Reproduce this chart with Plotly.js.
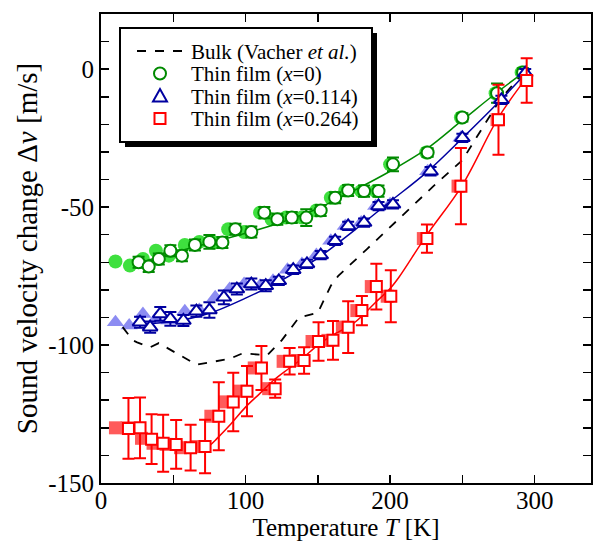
<!DOCTYPE html>
<html>
<head>
<meta charset="utf-8">
<script src="https://cdn.plot.ly/plotly-3.0.1.min.js"></script>
<style>html,body{margin:0;padding:0;background:#fff;}#chart{width:596px;height:541px;}</style>
</head>
<body>
<div id="chart"></div>
<script>
// ---- Data ----
// Bulk (Vacher et al.) dashed curve
const bulkT = [15, 22, 25, 34, 40, 66, 89, 98, 115, 125, 137, 150, 159, 164, 184, 206, 230, 250, 276, 291];
const bulkV = [-93.5, -98.3, -99, -100.8, -99.3, -107.1, -105, -103, -103.7, -98.3, -90, -88.3, -78.5, -75, -65.2, -54.4, -42.4, -33, -11.1, -2];

// Thin film x=0 (open circles)
const gT = [26, 33, 40, 48, 56, 65, 75, 84, 93, 104, 113, 122, 132, 142, 152, 162, 171, 182, 192, 202, 226, 250, 274, 292];
const gV = [-70, -71.5, -68.8, -65.8, -67.6, -63.7, -62.6, -62.8, -58, -59, -52, -54.4, -53.8, -53.8, -51.2, -46.6, -44, -44.2, -44.2, -34.5, -30.2, -17.5, -8.7, -1.2];
const gE = [2, 2, 2, 2, 2, 2, 2.5, 2, 2, 2, 2, 2, 2, 3, 2, 2, 2, 2, 2, 2.5, 1.5, 1.5, 3.5, 1.5];
// x=0 companion (filled, light)
const gfT = [10, 20, 29, 38, 47, 58, 68, 78, 88, 99, 110, 118, 128, 139, 149, 159, 169, 180, 190, 200, 225, 249, 273, 291];
const gfV = [-69.7, -71.2, -68.8, -65.8, -67.6, -63.7, -62.6, -62.8, -58, -59, -52, -54.4, -53.8, -53.8, -51.2, -46.6, -44, -44.2, -44.2, -34.5, -30.2, -17.5, -8.7, -1.2];
// x=0 fit line
const gFitT = [25, 50, 75, 100, 125, 150, 175, 200, 225, 250, 275, 293];
const gFitV = [-70.5, -66.5, -63, -59.5, -55.5, -50.5, -44, -37, -29, -18.5, -8, -1];

// Thin film x=0.114 (open triangles)
const bT = [27, 34, 41, 48, 57, 66, 75, 85, 94, 104, 114, 123, 133, 142.5, 152, 162, 171, 182, 192, 202, 228, 250, 277, 293.5];
const bV = [-91.7, -93.5, -88.7, -90.5, -91.1, -87.7, -87.3, -82.7, -79.7, -77.9, -78.5, -76.7, -72.7, -70.6, -67.4, -62.2, -56.8, -55.6, -49.6, -49, -37, -24.9, -11.1, -1.4];
const bE = [2, 2, 2.5, 2.5, 2, 2, 2.8, 2.5, 2, 2, 2, 1.5, 1.5, 1.5, 1.5, 1.5, 1.5, 1.5, 1.5, 1.5, 1.5, 1.5, 1.5, 1.5];
// x=0.114 companion (filled, light)
const bfT = [10, 19.5, 29, 38, 47, 58, 68, 79, 89, 99, 110, 119, 129, 139, 149, 159, 169, 180, 190, 200, 226, 249, 276, 293];
const bfV = [-91.7, -92.9, -88.7, -90.5, -91.1, -87.7, -87.3, -82.7, -79.7, -77.9, -78.5, -76.7, -72.7, -70.6, -67.4, -62.2, -56.8, -55.6, -49.6, -49, -37, -24.9, -11.1, -1.4];
// x=0.114 fit line
const bFitT = [25, 50, 75, 100, 125, 150, 175, 200, 225, 250, 275, 294];
const bFitV = [-92.5, -91.5, -88.5, -83, -76.5, -68.5, -58.5, -48, -37.5, -25, -12, -1.5];

// Thin film x=0.264 (open squares)
const rT = [19, 27, 35, 43, 52, 62, 72, 81.5, 91.5, 101, 111, 120.5, 130.5, 140.5, 150.5, 160.5, 171, 180.5, 190.5, 200.5, 225.5, 249, 275, 294.5];
const rV = [-130.2, -130, -134.1, -135.6, -136, -137.2, -136.8, -125.8, -120.6, -116.7, -108.3, -115.8, -105.9, -105.6, -98.7, -98.3, -93.5, -87.5, -78.8, -82.3, -61.4, -42.4, -18.3, -4.1];
const rE = [11, 11, 9, 10.3, 8.8, 8.3, 9.7, 12.3, 10.6, 9.1, 8, 3.3, 4.8, 4.8, 7, 7, 9.4, 5.3, 8.3, 9.4, 5.1, 13.8, 12.7, 8.1];
// x=0.264 companion (filled, light)
const rfT = [10, 18, 28, 36, 45, 55, 66, 76, 86, 96, 106, 116, 126, 136, 146, 157, 167, 177, 187, 198, 223, 247, 274, 294];
const rfV = [-130, -130, -133.8, -135.6, -136, -137.2, -136.8, -125.8, -120.6, -116.7, -108.3, -115.8, -105.9, -105.6, -98.7, -98.3, -93.5, -87.5, -78.8, -82.3, -61.4, -42.4, -18.3, -4.1];
// x=0.264 fit line
const rFitT = [72, 75, 80, 90, 100, 110, 120, 130, 140, 150, 160, 175, 190, 200, 206, 225, 250, 275, 295];
const rFitV = [-137.5, -136.5, -134, -128.5, -122.5, -117.5, -112.5, -108.5, -104.5, -100, -96.5, -92, -84.5, -79.5, -75.5, -60.4, -42, -17.5, -2.7];

// Tick labels
const xTickVals = [0, 100, 200, 300];
const xTickText = ['0', '100', '200', '300'];
const yTickVals = [-150, -100, -50, 0];
const yTickText = ['-150', '-100', '-50', '0'];

// Legend labels
const legendNames = ['Bulk (Vacher <i>et al.</i>)', 'Thin film (<i>x</i>=0)', 'Thin film (<i>x</i>=0.114)', 'Thin film (<i>x</i>=0.264)'];

// ---- Styling ----
const FONT = 'Liberation Serif, Times New Roman, serif';
const cG = '#008a00', cGf = '#3ee03e';
const cB = '#0000a0', cBf = '#8c8cf2';
const cR = '#ff0000', cRf = '#ff5a5a';

// plot-area geometry (pixels) used for placing the hand-drawn legend
const PL = 101, PR = 591, PT = 14, PB = 483;
const px = v => (v - PL) / (PR - PL);
const py = v => (PB - v) / (PB - PT);

function filled(x, y, sym, col, size) {
  return {x: x, y: y, type: 'scatter', mode: 'markers', showlegend: false, hoverinfo: 'skip',
    marker: {symbol: sym, size: size, color: col, line: {width: 0}}};
}
function fit(x, y, col) {
  return {x: x, y: y, type: 'scatter', mode: 'lines', showlegend: false, hoverinfo: 'skip',
    line: {color: col, width: 1.5, shape: 'spline'}};
}
function open(x, y, e, sym, col, name, size) {
  return {x: x, y: y, type: 'scatter', mode: 'markers', name: name, showlegend: false,
    error_y: {type: 'data', array: e, visible: true, color: col, thickness: 2, width: 6},
    marker: {symbol: sym, size: size, color: '#ffffff', line: {color: col, width: 2}}};
}

const traces = [
  filled(gfT, gfV, 'circle', cGf, 14),
  filled(bfT, bfV, 'triangle-up', cBf, 15),
  filled(rfT, rfV, 'square', cRf, 13),
  {x: bulkT, y: bulkV, type: 'scatter', mode: 'lines', name: legendNames[0], showlegend: false,
    line: {color: '#000', width: 1.8, dash: 'dash'}},
  fit(gFitT, gFitV, cG),
  fit(bFitT, bFitV, cB),
  fit(rFitT, rFitV, cR),
  open(gT, gV, gE, 'circle', cG, legendNames[1], 12),
  open(bT, bV, bE, 'triangle-up', cB, legendNames[2], 13),
  open(rT, rV, rE, 'square', cR, legendNames[3], 11)
];

const axisCommon = {
  showline: true, linecolor: '#000', linewidth: 2, mirror: 'ticks',
  ticks: 'inside', ticklen: 8, tickwidth: 1.5, tickcolor: '#000',
  showgrid: false, zeroline: false, tickmode: 'array',
  tickfont: {family: FONT, size: 25, color: '#000'}
};

// legend geometry in pixels
const LX0 = 120, LX1 = 372, LY0 = 28, LY1 = 142, SH = 5;
const rowY = [51, 73.5, 96, 118.5];
const symX = 160, textX = 189;

const shapes = [
  {type: 'rect', xref: 'paper', yref: 'paper', layer: 'above',
   x0: px(LX0 + SH), x1: px(LX1 + SH), y0: py(LY1 + SH), y1: py(LY0 + SH),
   fillcolor: '#000', line: {width: 0}},
  {type: 'rect', xref: 'paper', yref: 'paper', layer: 'above',
   x0: px(LX0), x1: px(LX1), y0: py(LY1), y1: py(LY0),
   fillcolor: '#fff', line: {color: '#000', width: 2}},
  {type: 'line', xref: 'paper', yref: 'paper', layer: 'above',
   x0: px(137), x1: px(182), y0: py(rowY[0]), y1: py(rowY[0]),
   line: {color: '#000', width: 1.8, dash: 'dash'}},
  {type: 'circle', xref: 'paper', yref: 'paper', layer: 'above',
   x0: px(symX - 6), x1: px(symX + 6), y0: py(rowY[1] + 6), y1: py(rowY[1] - 6),
   fillcolor: '#fff', line: {color: cG, width: 2}},
  {type: 'path', xref: 'paper', yref: 'paper', layer: 'above',
   path: 'M ' + px(symX - 7) + ' ' + py(rowY[2] + 5.5) + ' L ' + px(symX + 7) + ' ' + py(rowY[2] + 5.5) +
         ' L ' + px(symX) + ' ' + py(rowY[2] - 7) + ' Z',
   fillcolor: '#fff', line: {color: cB, width: 2}},
  {type: 'rect', xref: 'paper', yref: 'paper', layer: 'above',
   x0: px(symX - 5.5), x1: px(symX + 5.5), y0: py(rowY[3] + 5.5), y1: py(rowY[3] - 5.5),
   fillcolor: '#fff', line: {color: cR, width: 2}}
];

const annotations = legendNames.map((t, i) => ({
  text: t, xref: 'paper', yref: 'paper', x: px(textX), y: py(rowY[i] + 1),
  xanchor: 'left', yanchor: 'middle', showarrow: false,
  font: {family: FONT, size: 21, color: '#000'}
}));

const layout = {
  width: 596, height: 541,
  margin: {l: 101, r: 5, t: 14, b: 58},
  paper_bgcolor: '#fff', plot_bgcolor: '#fff',
  font: {family: FONT, color: '#000'},
  showlegend: false,
  xaxis: Object.assign({}, axisCommon, {
    range: [0, 339], tickvals: xTickVals, ticktext: xTickText,
    ticklabelstandoff: -6,
    minor: {dtick: 50, tick0: 0, ticks: 'inside', ticklen: 8, tickcolor: '#000', tickwidth: 1.5},
    title: {text: 'Temperature <i>T</i> [K]\u00a0\u00a0', font: {family: FONT, size: 25}, standoff: 2}
  }),
  yaxis: Object.assign({}, axisCommon, {
    range: [-150, 20], tickvals: yTickVals, ticktext: yTickText,
    minor: {dtick: 10, tick0: 0, ticks: 'inside', ticklen: 8, tickcolor: '#000', tickwidth: 1.5},
    title: {text: 'Sound velocity change Δ<i>v</i> [m/s]\u00a0\u00a0\u00a0', font: {family: FONT, size: 29}, standoff: 2}
  }),
  shapes: shapes,
  annotations: annotations
};

Plotly.newPlot('chart', traces, layout, {displayModeBar: false, staticPlot: true});
</script>
</body>
</html>
